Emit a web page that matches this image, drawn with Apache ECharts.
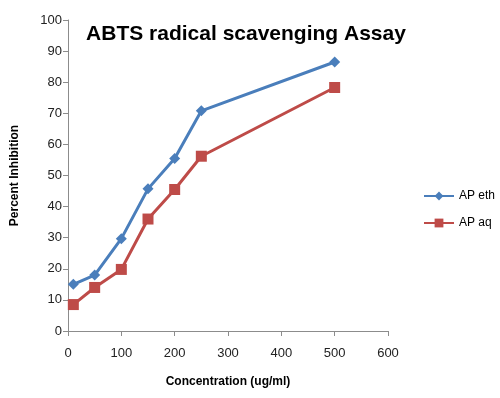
<!DOCTYPE html>
<html>
<head>
<meta charset="utf-8">
<script src="https://cdn.jsdelivr.net/npm/echarts@6/dist/echarts.min.js"></script>
<style>
  html, body { margin: 0; padding: 0; background: #fff; }
  #chart { width: 500px; height: 398px; }
</style>
</head>
<body>
<div id="chart"></div>
<script>
const concentrations = [10, 50, 100, 150, 200, 250, 500];
const apEth = [15, 18, 29.7, 45.7, 55.5, 70.8, 86.5];
const apAq = [8.5, 14, 19.8, 36, 45.5, 56.2, 78.3];

const pairs = (vals) => concentrations.map((c, i) => [c, vals[i]]);
const axisColor = "#8c8c8c";

const chart = echarts.init(document.getElementById("chart"));
chart.setOption({
  animation: false,
  textStyle: { fontFamily: "Liberation Sans, Arial, sans-serif" },
  title: {
    text: "ABTS radical scavenging Assay",
    left: 241, top: 19, textAlign: "center",
    textStyle: { fontSize: 21, fontWeight: "bold", color: "#000" }
  },
  grid: { left: 68, right: 112, top: 20, bottom: 67 },
  legend: {
    orient: "vertical",
    left: 418, top: 185,
    itemWidth: 30, itemHeight: 11, itemGap: 15,
    textStyle: { fontSize: 12, color: "#000" },
    data: ["AP eth", "AP aq"]
  },
  xAxis: {
    type: "value", min: 0, max: 600, interval: 100,
    name: "Concentration (ug/ml)", nameLocation: "middle", nameGap: 45,
    nameTextStyle: { fontSize: 12, fontWeight: "bold", color: "#000" },
    axisLine: { lineStyle: { color: axisColor } },
    axisTick: { show: true, length: 5, lineStyle: { color: axisColor } },
    axisLabel: { fontSize: 13, color: "#222", margin: 16 },
    splitLine: { show: false }
  },
  yAxis: {
    type: "value", min: 0, max: 100, interval: 10,
    name: "Percent Inhibition", nameLocation: "middle", nameGap: 47,
    nameTextStyle: { fontSize: 12, fontWeight: "bold", color: "#000" },
    axisLine: { show: true, lineStyle: { color: axisColor } },
    axisTick: { show: true, length: 5, lineStyle: { color: axisColor } },
    axisLabel: { fontSize: 13, color: "#222", margin: 6 },
    splitLine: { show: false }
  },
  series: [
    {
      name: "AP eth", type: "line", data: pairs(apEth),
      symbol: "diamond", symbolSize: 11,
      lineStyle: { width: 3, color: "#4a7ebb" },
      itemStyle: { color: "#4a7ebb" }
    },
    {
      name: "AP aq", type: "line", data: pairs(apAq),
      symbol: "rect", symbolSize: 11,
      lineStyle: { width: 3, color: "#be4b48" },
      itemStyle: { color: "#be4b48" }
    }
  ]
});
</script>
</body>
</html>
